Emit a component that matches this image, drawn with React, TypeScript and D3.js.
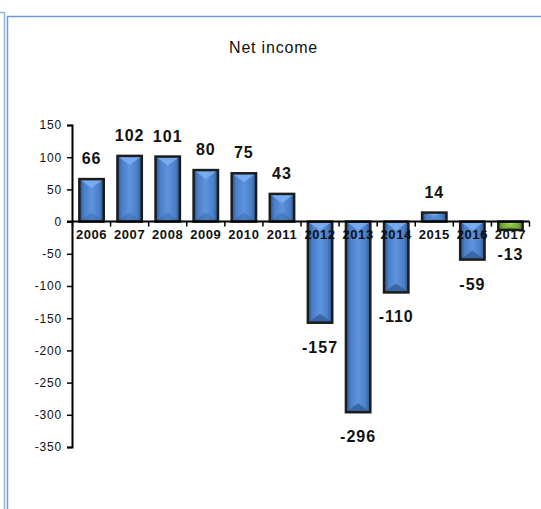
import React, { useRef, useEffect } from 'react';
import * as d3 from 'd3';

const years = ['2006', '2007', '2008', '2009', '2010', '2011', '2012', '2013', '2014', '2015', '2016', '2017'];
const netIncome = [66, 102, 101, 80, 75, 43, -157, -296, -110, 14, -59, -13];
const highlightYears = ['2017'];
const yTicks = [150, 100, 50, 0, -50, -100, -150, -200, -250, -300, -350];

const App: React.FC = () => {
  const chartRef = useRef<SVGSVGElement>(null);

  useEffect(() => {
    if (!chartRef.current) return;
    const svg = d3.select(chartRef.current);
    svg.selectAll('*').remove();

    const W = 541;
    const H = 509;
    const data = years.map((year, i) => ({ year, value: netIncome[i] }));

    svg.append('rect').attr('width', W).attr('height', H).attr('fill', '#fff');

    // frames (outer one mostly off-screen to the left)
    svg.append('path')
      .attr('d', `M0,12.5 H4.5 V${H + 5}`)
      .attr('fill', 'none')
      .attr('stroke', '#8fb4e4')
      .attr('stroke-width', 1.5);
    svg.append('rect')
      .attr('x', 7.5).attr('y', 16.5)
      .attr('width', W + 20).attr('height', H + 20)
      .attr('fill', 'none')
      .attr('stroke', '#6b9bd8')
      .attr('stroke-width', 1.5);

    // gradients
    const defs = svg.append('defs');
    const mkGrad = (id: string, stops: [number, string][]) => {
      const g = defs.append('linearGradient').attr('id', id)
        .attr('x1', '0%').attr('x2', '100%').attr('y1', '0%').attr('y2', '0%');
      stops.forEach(([o, c]) => g.append('stop').attr('offset', `${o}%`).attr('stop-color', c));
    };
    mkGrad('blueBar', [[0, '#2b5189'], [18, '#4a7ec6'], [50, '#5d94de'], [82, '#4a7ec6'], [100, '#2b5189']]);
    mkGrad('greenBar', [[0, '#4f7a1c'], [20, '#78ad35'], [50, '#93c74a'], [80, '#78ad35'], [100, '#4f7a1c']]);

    const x = d3.scaleBand()
      .domain(years)
      .range([72.5, 529.5])
      .paddingInner(0.36)
      .paddingOuter(0.18);
    const y = d3.scaleLinear()
      .domain([-350, 150])
      .range([447, 125]);

    // title
    svg.append('text')
      .attr('x', 273.5).attr('y', 52.5)
      .attr('text-anchor', 'middle')
      .style('font-family', 'Liberation Sans, Arial, sans-serif')
      .style('font-size', '16px')
      .style('letter-spacing', '0.8px')
      .style('fill', '#111')
      .text('Net income');

    // bars
    const bars = svg.append('g');
    data.forEach(d => {
      const bx = x(d.year)!;
      const bw = x.bandwidth();
      const top = y(Math.max(0, d.value));
      const bot = y(Math.min(0, d.value));
      const h = bot - top;
      const green = highlightYears.includes(d.year);
      const g = bars.append('g');
      g.append('rect')
        .attr('x', bx).attr('y', top)
        .attr('width', bw).attr('height', h)
        .attr('fill', green ? 'url(#greenBar)' : 'url(#blueBar)');
      const dep = Math.min(9, h / 3);
      g.append('polygon')
        .attr('points', `${bx},${top} ${bx + bw},${top} ${bx + bw / 2},${top + dep}`)
        .attr('fill', green ? '#a6d65e' : '#7db0f2')
        .attr('opacity', 0.85);
      g.append('polygon')
        .attr('points', `${bx},${bot} ${bx + bw},${bot} ${bx + bw / 2},${bot - dep}`)
        .attr('fill', green ? '#4c7520' : '#2f5a96')
        .attr('opacity', d.value < 0 ? 0.75 : 0.35);
      g.append('rect')
        .attr('x', bx).attr('y', top)
        .attr('width', bw).attr('height', h)
        .attr('fill', 'none')
        .attr('stroke', '#1c1c1c')
        .attr('stroke-width', 2.5);
    });

    // y axis
    const yAxis = svg.append('g')
      .attr('transform', 'translate(72,0)')
      .call(d3.axisLeft(y).tickValues(yTicks).tickSize(5).tickPadding(5).tickFormat(d => String(d)));
    yAxis.select('.domain').attr('stroke', '#000').attr('stroke-width', 2);
    yAxis.selectAll('.tick line').attr('stroke', '#000').attr('stroke-width', 1.5);
    yAxis.selectAll('text')
      .style('font-family', 'Liberation Sans, Arial, sans-serif')
      .style('font-size', '12px')
      .style('letter-spacing', '0.8px')
      .style('fill', '#111');

    // x axis at zero
    const zeroY = y(0);
    svg.append('line')
      .attr('x1', 67).attr('x2', 529.5)
      .attr('y1', zeroY).attr('y2', zeroY)
      .attr('stroke', '#000').attr('stroke-width', 2);
    const tickXs = d3.range(years.length + 1).map(i => 72.5 + i * x.step());
    svg.selectAll('.cat-tick')
      .data(tickXs)
      .enter()
      .append('line')
      .attr('x1', d => d).attr('x2', d => d)
      .attr('y1', zeroY).attr('y2', zeroY + 5)
      .attr('stroke', '#000').attr('stroke-width', 1.5);

    // year labels
    svg.selectAll('.year')
      .data(data)
      .enter()
      .append('text')
      .attr('x', d => x(d.year)! + x.bandwidth() / 2)
      .attr('y', zeroY + 17)
      .attr('text-anchor', 'middle')
      .style('font-family', 'Liberation Sans, Arial, sans-serif')
      .style('font-weight', 'bold')
      .style('font-size', '13px')
      .style('letter-spacing', '0.6px')
      .style('fill', '#111')
      .text(d => d.year);

    // value labels
    svg.selectAll('.val')
      .data(data)
      .enter()
      .append('text')
      .attr('x', d => x(d.year)! + x.bandwidth() / 2)
      .attr('y', d => d.value >= 0 ? y(d.value) - 15 : y(d.value) + 30)
      .attr('text-anchor', 'middle')
      .style('font-family', 'Liberation Sans, Arial, sans-serif')
      .style('font-weight', 'bold')
      .style('font-size', '16px')
      .style('letter-spacing', '1px')
      .style('fill', '#111')
      .text(d => String(d.value));
  }, []);

  return (
    <svg
      ref={chartRef}
      width={541}
      height={509}
      style={{ position: 'absolute', left: 0, top: 0, display: 'block' }}
    />
  );
};

export default App;
